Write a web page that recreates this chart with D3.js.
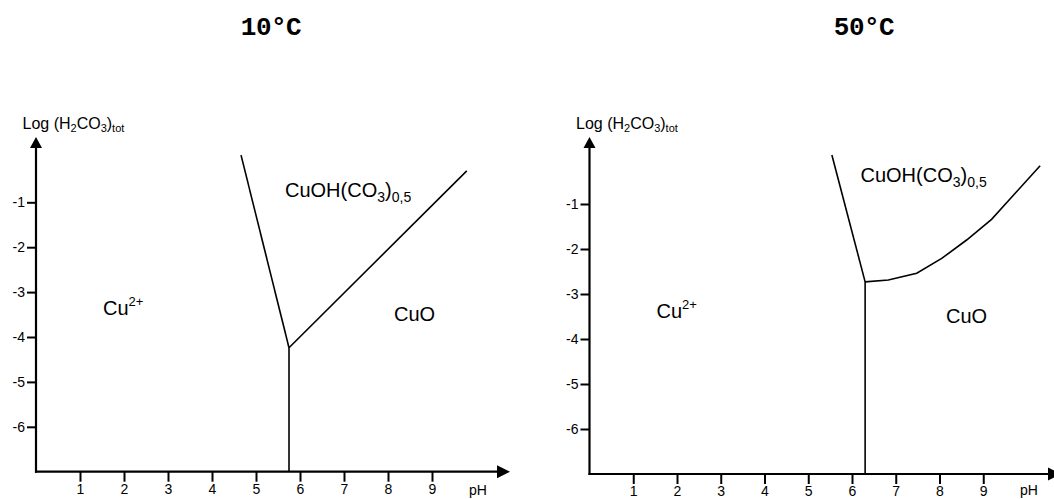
<!DOCTYPE html>
<html>
<head>
<meta charset="utf-8">
<script src="https://cdn.jsdelivr.net/npm/d3@7"></script>
<style>
  html, body { margin: 0; padding: 0; background: #fff; }
  svg { display: block; }
  text { font-family: Arial, "Liberation Sans", sans-serif; fill: #000; }
</style>
</head>
<body>
<svg id="chart" width="1054" height="499"></svg>
<script>
// Tick labels shared by both diagrams
const pHTicks = [1, 2, 3, 4, 5, 6, 7, 8, 9];
const logTicks = [-1, -2, -3, -4, -5, -6];

// Stability boundaries at 10 °C: [pH, log (H2CO3)tot]
const cu10Left = [[4.66, 0.05], [5.75, -4.24]];
const cu10Vertical = [[5.75, -4.24], [5.75, -7]];
const cu10Upper = [[5.75, -4.24], [9.79, -0.30]];

// Stability boundaries at 50 °C
const cu50Left = [[5.54, 0.09], [6.30, -2.73]];
const cu50Vertical = [[6.30, -2.73], [6.30, -7]];
const cu50Upper = [[6.30, -2.73], [6.83, -2.69], [7.48, -2.54], [8.05, -2.21],
                   [8.62, -1.80], [9.19, -1.34], [10.30, -0.15]];

const titles = ["10°C", "50°C"];

const panels = [
  { title: titles[0], titleX: 271, xRange: [36, 476], yRange: [471.7, 157.4], xEnd: 510,
    lines: [cu10Left, cu10Vertical, cu10Upper],
    labels: { cu2: [103, -3.5], cuo: [394, -3.65], carb: [285, -0.88] } },
  { title: titles[1], titleX: 864, xRange: [589.5, 1027], yRange: [474, 159], xEnd: 1061,
    lines: [cu50Left, cu50Vertical, cu50Upper],
    labels: { cu2: [656.5, -3.54], cuo: [946, -3.64], carb: [860.5, -0.50] } }
];

const svg = d3.select("#chart");
const plain = d => String(d);   // keeps the ASCII hyphen on negative values

panels.forEach(p => {
  const x = d3.scaleLinear().domain([0, 10]).range(p.xRange);
  const y = d3.scaleLinear().domain([-7, 0]).range(p.yRange);
  const g = svg.append("g");
  const x0 = x(0), yBase = y(-7);

  // Title
  g.append("text")
    .attr("x", p.titleX).attr("y", 35)
    .attr("text-anchor", "middle")
    .style("font-family", "'Liberation Mono', 'Courier New', monospace")
    .style("font-weight", "bold")
    .style("font-size", "26px")
    .style("letter-spacing", "-0.5px")
    .text(p.title);

  // Y axis ticks
  const yAxis = d3.axisLeft(y).tickValues(logTicks).tickSize(9).tickPadding(2).tickFormat(plain);
  const gy = g.append("g").attr("transform", `translate(${x0},0)`).call(yAxis);
  gy.select(".domain").remove();
  gy.selectAll(".tick line").attr("stroke", "#000").attr("stroke-width", 2);
  gy.selectAll(".tick text").style("font-size", "14px").style("font-family", "Arial, 'Liberation Sans', sans-serif");

  // X axis ticks
  const xAxis = d3.axisBottom(x).tickValues(pHTicks).tickSize(10).tickPadding(4).tickFormat(plain);
  const gx = g.append("g").attr("transform", `translate(0,${yBase})`).call(xAxis);
  gx.select(".domain").remove();
  gx.selectAll(".tick line").attr("stroke", "#000").attr("stroke-width", 2);
  gx.selectAll(".tick text").style("font-size", "14px").style("font-family", "Arial, 'Liberation Sans', sans-serif")
    .attr("dy", "0.6em");

  // Axis lines with arrowheads
  const yTop = 137;
  g.append("line").attr("x1", x0).attr("y1", yBase + 1).attr("x2", x0).attr("y2", yTop + 8)
    .attr("stroke", "#000").attr("stroke-width", 2.2);
  g.append("path")
    .attr("d", `M${x0},${yTop} L${x0 - 6},${yTop + 11} L${x0 + 6},${yTop + 11} Z`)
    .attr("fill", "#000");
  g.append("line").attr("x1", x0 - 1).attr("y1", yBase).attr("x2", p.xEnd - 8).attr("y2", yBase)
    .attr("stroke", "#000").attr("stroke-width", 2.2);
  g.append("path")
    .attr("d", `M${p.xEnd},${yBase} L${p.xEnd - 13},${yBase - 6.5} L${p.xEnd - 13},${yBase + 6.5} Z`)
    .attr("fill", "#000");

  // Axis titles
  const yl = g.append("text").attr("x", x0 - 13.5).attr("y", 129).style("font-size", "16px");
  yl.append("tspan").text("Log (H");
  yl.append("tspan").attr("dy", 3).style("font-size", "11px").text("2");
  yl.append("tspan").attr("dy", -3).text("CO");
  yl.append("tspan").attr("dy", 3).style("font-size", "11px").text("3");
  yl.append("tspan").attr("dy", -3).text(")");
  yl.append("tspan").attr("dy", 3).style("font-size", "11px").text("tot");

  g.append("text").attr("x", p.xEnd - 41).attr("y", 495).style("font-size", "14px").text("pH");

  // Phase boundaries
  const line = d3.line().x(d => x(d[0])).y(d => y(d[1]));
  p.lines.forEach(pts => {
    g.append("path").attr("d", line(pts))
      .attr("fill", "none").attr("stroke", "#000").attr("stroke-width", 1.6)
      .attr("stroke-linejoin", "miter");
  });

  // Field labels
  const c2 = g.append("text").attr("x", p.labels.cu2[0]).attr("y", y(p.labels.cu2[1]))
    .style("font-size", "20px");
  c2.append("tspan").text("Cu");
  c2.append("tspan").attr("dy", -9).style("font-size", "13px").text("2+");

  g.append("text").attr("x", p.labels.cuo[0]).attr("y", y(p.labels.cuo[1]))
    .style("font-size", "20px").text("CuO");

  const cb = g.append("text").attr("x", p.labels.carb[0]).attr("y", y(p.labels.carb[1]))
    .style("font-size", "20px");
  cb.append("tspan").text("CuOH(CO");
  cb.append("tspan").attr("dy", 5).style("font-size", "14px").text("3");
  cb.append("tspan").attr("dy", -5).text(")");
  cb.append("tspan").attr("dy", 5).style("font-size", "14px").text("0,5");
});
</script>
</body>
</html>
